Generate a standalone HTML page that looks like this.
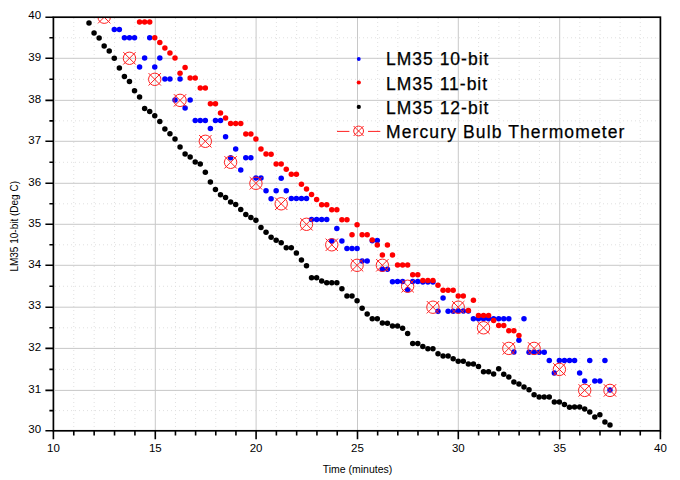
<!DOCTYPE html><html><head><meta charset="utf-8"><title>LM35 chart</title><style>
html,body{margin:0;padding:0;background:#fff;width:680px;height:480px;overflow:hidden}
svg{display:block}text{font-family:"Liberation Sans",sans-serif;fill:#000}
</style></head><body>
<svg width="680" height="480" viewBox="0 0 680 480">
<defs><clipPath id="pa"><rect x="53.4" y="17.2" width="607" height="413.6"/></clipPath>
<g id="mk"><circle r="6.2" fill="none" stroke="#ff2020" stroke-width="1"/><path d="M-6.2-6.2L6.2 6.2M6.2-6.2L-6.2 6.2" stroke="#ff2020" stroke-width="1" fill="none"/></g>
</defs>
<rect width="680" height="480" fill="#fff"/>
<path d="M73.78 18V430M94.16 18V430M114.54 18V430M134.92 18V430M175.46 18V430M195.62 18V430M215.78 18V430M235.94 18V430M276.38 18V430M296.66 18V430M316.94 18V430M337.22 18V430M377.66 18V430M397.82 18V430M417.98 18V430M438.14 18V430M478.58 18V430M498.86 18V430M519.14 18V430M539.42 18V430M579.84 18V430M599.98 18V430M620.12 18V430M640.26 18V430M55 410.6H659M55 369.4H659M55 327.8H659M55 286.25H659M55 244.8H659M55 203.8H659M55 162.3H659M55 120.83H659M55 79.32H659M55 37.75H659" stroke="#e0e0e0" stroke-width="1" stroke-dasharray="1 3" fill="none"/>
<path d="M155.3 18V430M256.1 18V430M357.5 18V430M458.3 18V430M559.7 18V430M55 390.4H659M55 348.4H659M55 307.2H659M55 265.3H659M55 224.3H659M55 183.3H659M55 141.3H659M55 100.35H659M55 58.3H659" stroke="#c8c8c8" stroke-width="1" fill="none"/>
<g>
<circle cx="358.8" cy="59" r="1.9" fill="#0000ff"/>
<circle cx="358.8" cy="82.5" r="2.1" fill="#ff0000"/>
<circle cx="358.8" cy="106.9" r="2.1" fill="#000"/>
<path d="M337 131.4H349.4M368 131.4H380.3" stroke="#ff2020" stroke-width="1"/>
<circle cx="358.6" cy="131" r="4.9" fill="none" stroke="#ff2020" stroke-width="1"/><path d="M353.6 126L363.6 136M363.6 126L353.6 136" stroke="#ff2020" stroke-width="1"/>
<text x="386" y="65.30" font-size="17.5" letter-spacing="1.0" stroke="#000" stroke-width="0.25">LM35 10-bit</text>
<text x="386" y="89.60" font-size="17.5" letter-spacing="1.0" stroke="#000" stroke-width="0.25">LM35 11-bit</text>
<text x="386" y="113.90" font-size="17.5" letter-spacing="1.0" stroke="#000" stroke-width="0.25">LM35 12-bit</text>
<text x="386" y="138.20" font-size="17.5" letter-spacing="1.12" stroke="#000" stroke-width="0.25">Mercury Bulb Thermometer</text>
</g>
<g clip-path="url(#pa)">
<g fill="#0000ff">
<circle cx="114.29" cy="29.5" r="2.75"/>
<circle cx="119.35" cy="29.5" r="2.75"/>
<circle cx="124.41" cy="37.8" r="2.75"/>
<circle cx="129.46" cy="37.8" r="2.75"/>
<circle cx="134.52" cy="37.8" r="2.75"/>
<circle cx="139.58" cy="67.0" r="2.75"/>
<circle cx="144.64" cy="58.1" r="2.75"/>
<circle cx="149.70" cy="37.8" r="2.75"/>
<circle cx="154.75" cy="67.0" r="2.75"/>
<circle cx="159.81" cy="58.1" r="2.75"/>
<circle cx="164.87" cy="78.9" r="2.75"/>
<circle cx="169.93" cy="78.9" r="2.75"/>
<circle cx="174.99" cy="100.0" r="2.75"/>
<circle cx="180.04" cy="78.9" r="2.75"/>
<circle cx="185.10" cy="108.1" r="2.75"/>
<circle cx="190.16" cy="100.0" r="2.75"/>
<circle cx="195.22" cy="120.6" r="2.75"/>
<circle cx="200.28" cy="120.6" r="2.75"/>
<circle cx="205.33" cy="120.6" r="2.75"/>
<circle cx="210.39" cy="128.6" r="2.75"/>
<circle cx="215.45" cy="120.6" r="2.75"/>
<circle cx="220.51" cy="120.6" r="2.75"/>
<circle cx="225.57" cy="136.8" r="2.75"/>
<circle cx="230.62" cy="157.8" r="2.75"/>
<circle cx="235.68" cy="149.1" r="2.75"/>
<circle cx="240.74" cy="170.0" r="2.75"/>
<circle cx="245.80" cy="157.8" r="2.75"/>
<circle cx="250.86" cy="157.8" r="2.75"/>
<circle cx="255.91" cy="178.0" r="2.75"/>
<circle cx="260.97" cy="178.0" r="2.75"/>
<circle cx="266.03" cy="190.8" r="2.75"/>
<circle cx="271.09" cy="198.7" r="2.75"/>
<circle cx="276.15" cy="190.8" r="2.75"/>
<circle cx="281.20" cy="178.3" r="2.75"/>
<circle cx="286.26" cy="190.8" r="2.75"/>
<circle cx="291.32" cy="198.6" r="2.75"/>
<circle cx="296.38" cy="198.6" r="2.75"/>
<circle cx="301.44" cy="198.6" r="2.75"/>
<circle cx="306.49" cy="198.6" r="2.75"/>
<circle cx="311.55" cy="219.5" r="2.75"/>
<circle cx="316.61" cy="219.5" r="2.75"/>
<circle cx="321.67" cy="219.6" r="2.75"/>
<circle cx="326.73" cy="219.6" r="2.75"/>
<circle cx="331.78" cy="240.9" r="2.75"/>
<circle cx="336.84" cy="228.4" r="2.75"/>
<circle cx="341.90" cy="240.9" r="2.75"/>
<circle cx="346.96" cy="248.4" r="2.75"/>
<circle cx="352.02" cy="248.4" r="2.75"/>
<circle cx="357.07" cy="248.4" r="2.75"/>
<circle cx="362.13" cy="261.0" r="2.75"/>
<circle cx="367.19" cy="261.0" r="2.75"/>
<circle cx="372.25" cy="240.8" r="2.75"/>
<circle cx="377.31" cy="240.4" r="2.75"/>
<circle cx="382.36" cy="269.2" r="2.75"/>
<circle cx="387.42" cy="269.2" r="2.75"/>
<circle cx="392.48" cy="281.7" r="2.75"/>
<circle cx="397.54" cy="281.6" r="2.75"/>
<circle cx="402.60" cy="281.6" r="2.75"/>
<circle cx="407.65" cy="289.7" r="2.75"/>
<circle cx="412.71" cy="281.6" r="2.75"/>
<circle cx="417.77" cy="281.6" r="2.75"/>
<circle cx="422.83" cy="282.0" r="2.75"/>
<circle cx="427.89" cy="282.0" r="2.75"/>
<circle cx="432.94" cy="282.0" r="2.75"/>
<circle cx="438.00" cy="311.2" r="2.75"/>
<circle cx="443.06" cy="298.1" r="2.75"/>
<circle cx="448.12" cy="311.2" r="2.75"/>
<circle cx="453.18" cy="311.2" r="2.75"/>
<circle cx="458.23" cy="311.0" r="2.75"/>
<circle cx="463.29" cy="311.0" r="2.75"/>
<circle cx="468.35" cy="311.0" r="2.75"/>
<circle cx="473.41" cy="318.8" r="2.75"/>
<circle cx="478.47" cy="318.8" r="2.75"/>
<circle cx="483.52" cy="318.8" r="2.75"/>
<circle cx="488.58" cy="318.8" r="2.75"/>
<circle cx="493.64" cy="318.8" r="2.75"/>
<circle cx="498.70" cy="318.8" r="2.75"/>
<circle cx="503.76" cy="318.8" r="2.75"/>
<circle cx="508.81" cy="318.8" r="2.75"/>
<circle cx="513.87" cy="352.0" r="2.75"/>
<circle cx="518.93" cy="340.2" r="2.75"/>
<circle cx="523.99" cy="318.8" r="2.75"/>
<circle cx="529.05" cy="352.2" r="2.75"/>
<circle cx="534.10" cy="352.2" r="2.75"/>
<circle cx="539.16" cy="352.2" r="2.75"/>
<circle cx="544.22" cy="352.2" r="2.75"/>
<circle cx="549.28" cy="360.6" r="2.75"/>
<circle cx="554.34" cy="373.1" r="2.75"/>
<circle cx="559.39" cy="360.6" r="2.75"/>
<circle cx="564.45" cy="360.6" r="2.75"/>
<circle cx="569.51" cy="360.6" r="2.75"/>
<circle cx="574.57" cy="360.6" r="2.75"/>
<circle cx="579.63" cy="373.1" r="2.75"/>
<circle cx="584.68" cy="381.0" r="2.75"/>
<circle cx="589.74" cy="360.6" r="2.75"/>
<circle cx="594.80" cy="381.0" r="2.75"/>
<circle cx="599.86" cy="381.0" r="2.75"/>
<circle cx="604.92" cy="360.6" r="2.75"/>
<circle cx="609.97" cy="390.0" r="2.75"/>
</g><g fill="#ff0000">
<circle cx="139.58" cy="22.0" r="2.75"/>
<circle cx="144.64" cy="22.0" r="2.75"/>
<circle cx="149.70" cy="22.0" r="2.75"/>
<circle cx="154.75" cy="37.8" r="2.75"/>
<circle cx="159.81" cy="42.5" r="2.75"/>
<circle cx="164.87" cy="48.0" r="2.75"/>
<circle cx="169.93" cy="53.0" r="2.75"/>
<circle cx="174.99" cy="58.0" r="2.75"/>
<circle cx="180.04" cy="73.3" r="2.75"/>
<circle cx="185.10" cy="67.6" r="2.75"/>
<circle cx="190.16" cy="78.1" r="2.75"/>
<circle cx="195.22" cy="78.1" r="2.75"/>
<circle cx="200.28" cy="87.9" r="2.75"/>
<circle cx="205.33" cy="87.9" r="2.75"/>
<circle cx="210.39" cy="103.7" r="2.75"/>
<circle cx="215.45" cy="103.7" r="2.75"/>
<circle cx="220.51" cy="113.0" r="2.75"/>
<circle cx="225.57" cy="118.0" r="2.75"/>
<circle cx="230.62" cy="123.6" r="2.75"/>
<circle cx="235.68" cy="123.6" r="2.75"/>
<circle cx="240.74" cy="123.6" r="2.75"/>
<circle cx="245.80" cy="133.9" r="2.75"/>
<circle cx="250.86" cy="133.9" r="2.75"/>
<circle cx="255.91" cy="139.0" r="2.75"/>
<circle cx="260.97" cy="149.0" r="2.75"/>
<circle cx="266.03" cy="154.0" r="2.75"/>
<circle cx="271.09" cy="154.2" r="2.75"/>
<circle cx="276.15" cy="164.0" r="2.75"/>
<circle cx="281.20" cy="164.0" r="2.75"/>
<circle cx="286.26" cy="169.3" r="2.75"/>
<circle cx="291.32" cy="174.2" r="2.75"/>
<circle cx="296.38" cy="174.2" r="2.75"/>
<circle cx="301.44" cy="184.2" r="2.75"/>
<circle cx="306.49" cy="188.9" r="2.75"/>
<circle cx="311.55" cy="194.4" r="2.75"/>
<circle cx="316.61" cy="199.5" r="2.75"/>
<circle cx="321.67" cy="204.7" r="2.75"/>
<circle cx="326.73" cy="204.7" r="2.75"/>
<circle cx="331.78" cy="209.7" r="2.75"/>
<circle cx="336.84" cy="209.7" r="2.75"/>
<circle cx="341.90" cy="219.7" r="2.75"/>
<circle cx="346.96" cy="219.7" r="2.75"/>
<circle cx="352.02" cy="234.8" r="2.75"/>
<circle cx="357.07" cy="224.7" r="2.75"/>
<circle cx="362.13" cy="234.8" r="2.75"/>
<circle cx="367.19" cy="234.8" r="2.75"/>
<circle cx="372.25" cy="240.0" r="2.75"/>
<circle cx="377.31" cy="245.0" r="2.75"/>
<circle cx="382.36" cy="255.1" r="2.75"/>
<circle cx="387.42" cy="245.0" r="2.75"/>
<circle cx="392.48" cy="255.1" r="2.75"/>
<circle cx="397.54" cy="265.0" r="2.75"/>
<circle cx="402.60" cy="265.1" r="2.75"/>
<circle cx="407.65" cy="265.1" r="2.75"/>
<circle cx="412.71" cy="274.8" r="2.75"/>
<circle cx="417.77" cy="274.8" r="2.75"/>
<circle cx="422.83" cy="280.4" r="2.75"/>
<circle cx="427.89" cy="280.4" r="2.75"/>
<circle cx="432.94" cy="280.4" r="2.75"/>
<circle cx="438.00" cy="285.3" r="2.75"/>
<circle cx="443.06" cy="290.3" r="2.75"/>
<circle cx="448.12" cy="290.3" r="2.75"/>
<circle cx="453.18" cy="290.3" r="2.75"/>
<circle cx="458.23" cy="295.9" r="2.75"/>
<circle cx="463.29" cy="295.9" r="2.75"/>
<circle cx="468.35" cy="310.6" r="2.75"/>
<circle cx="473.41" cy="300.3" r="2.75"/>
<circle cx="478.47" cy="315.6" r="2.75"/>
<circle cx="483.52" cy="315.6" r="2.75"/>
<circle cx="488.58" cy="315.6" r="2.75"/>
<circle cx="493.64" cy="320.6" r="2.75"/>
<circle cx="498.70" cy="325.6" r="2.75"/>
<circle cx="503.76" cy="325.6" r="2.75"/>
<circle cx="508.81" cy="330.7" r="2.75"/>
<circle cx="513.87" cy="330.7" r="2.75"/>
<circle cx="518.93" cy="335.6" r="2.75"/>
</g><g fill="#000">
<circle cx="89.00" cy="22.9" r="2.75"/>
<circle cx="94.06" cy="32.9" r="2.75"/>
<circle cx="99.12" cy="38.1" r="2.75"/>
<circle cx="104.17" cy="46.0" r="2.75"/>
<circle cx="109.23" cy="51.0" r="2.75"/>
<circle cx="114.29" cy="58.2" r="2.75"/>
<circle cx="119.35" cy="68.0" r="2.75"/>
<circle cx="124.41" cy="76.5" r="2.75"/>
<circle cx="129.46" cy="81.5" r="2.75"/>
<circle cx="134.52" cy="90.8" r="2.75"/>
<circle cx="139.58" cy="96.9" r="2.75"/>
<circle cx="144.64" cy="108.6" r="2.75"/>
<circle cx="149.70" cy="111.4" r="2.75"/>
<circle cx="154.75" cy="115.8" r="2.75"/>
<circle cx="159.81" cy="121.6" r="2.75"/>
<circle cx="164.87" cy="128.9" r="2.75"/>
<circle cx="169.93" cy="133.8" r="2.75"/>
<circle cx="174.99" cy="139.0" r="2.75"/>
<circle cx="180.04" cy="146.9" r="2.75"/>
<circle cx="185.10" cy="153.9" r="2.75"/>
<circle cx="190.16" cy="157.0" r="2.75"/>
<circle cx="195.22" cy="162.0" r="2.75"/>
<circle cx="200.28" cy="164.0" r="2.75"/>
<circle cx="205.33" cy="172.2" r="2.75"/>
<circle cx="210.39" cy="182.0" r="2.75"/>
<circle cx="215.45" cy="189.4" r="2.75"/>
<circle cx="220.51" cy="194.8" r="2.75"/>
<circle cx="225.57" cy="197.4" r="2.75"/>
<circle cx="230.62" cy="202.1" r="2.75"/>
<circle cx="235.68" cy="204.5" r="2.75"/>
<circle cx="240.74" cy="209.5" r="2.75"/>
<circle cx="245.80" cy="214.5" r="2.75"/>
<circle cx="250.86" cy="217.5" r="2.75"/>
<circle cx="255.91" cy="220.3" r="2.75"/>
<circle cx="260.97" cy="227.6" r="2.75"/>
<circle cx="266.03" cy="232.3" r="2.75"/>
<circle cx="271.09" cy="237.2" r="2.75"/>
<circle cx="276.15" cy="240.3" r="2.75"/>
<circle cx="281.20" cy="242.7" r="2.75"/>
<circle cx="286.26" cy="247.8" r="2.75"/>
<circle cx="291.32" cy="247.8" r="2.75"/>
<circle cx="296.38" cy="253.1" r="2.75"/>
<circle cx="301.44" cy="260.0" r="2.75"/>
<circle cx="306.49" cy="265.8" r="2.75"/>
<circle cx="311.55" cy="277.8" r="2.75"/>
<circle cx="316.61" cy="277.8" r="2.75"/>
<circle cx="321.67" cy="280.9" r="2.75"/>
<circle cx="326.73" cy="282.8" r="2.75"/>
<circle cx="331.78" cy="282.8" r="2.75"/>
<circle cx="336.84" cy="282.8" r="2.75"/>
<circle cx="341.90" cy="288.8" r="2.75"/>
<circle cx="346.96" cy="296.1" r="2.75"/>
<circle cx="352.02" cy="296.1" r="2.75"/>
<circle cx="357.07" cy="300.8" r="2.75"/>
<circle cx="362.13" cy="308.3" r="2.75"/>
<circle cx="367.19" cy="314.1" r="2.75"/>
<circle cx="372.25" cy="318.8" r="2.75"/>
<circle cx="377.31" cy="318.8" r="2.75"/>
<circle cx="382.36" cy="323.0" r="2.75"/>
<circle cx="387.42" cy="323.3" r="2.75"/>
<circle cx="392.48" cy="326.0" r="2.75"/>
<circle cx="397.54" cy="326.1" r="2.75"/>
<circle cx="402.60" cy="328.3" r="2.75"/>
<circle cx="407.65" cy="333.4" r="2.75"/>
<circle cx="412.71" cy="343.6" r="2.75"/>
<circle cx="417.77" cy="343.6" r="2.75"/>
<circle cx="422.83" cy="346.4" r="2.75"/>
<circle cx="427.89" cy="348.8" r="2.75"/>
<circle cx="432.94" cy="348.8" r="2.75"/>
<circle cx="438.00" cy="353.8" r="2.75"/>
<circle cx="443.06" cy="356.1" r="2.75"/>
<circle cx="448.12" cy="356.1" r="2.75"/>
<circle cx="453.18" cy="358.8" r="2.75"/>
<circle cx="458.23" cy="361.3" r="2.75"/>
<circle cx="463.29" cy="361.3" r="2.75"/>
<circle cx="468.35" cy="363.9" r="2.75"/>
<circle cx="473.41" cy="364.0" r="2.75"/>
<circle cx="478.47" cy="366.5" r="2.75"/>
<circle cx="483.52" cy="371.7" r="2.75"/>
<circle cx="488.58" cy="371.7" r="2.75"/>
<circle cx="493.64" cy="374.1" r="2.75"/>
<circle cx="498.70" cy="368.8" r="2.75"/>
<circle cx="503.76" cy="374.2" r="2.75"/>
<circle cx="508.81" cy="376.9" r="2.75"/>
<circle cx="513.87" cy="381.9" r="2.75"/>
<circle cx="518.93" cy="383.9" r="2.75"/>
<circle cx="523.99" cy="387.0" r="2.75"/>
<circle cx="529.05" cy="389.7" r="2.75"/>
<circle cx="534.10" cy="394.8" r="2.75"/>
<circle cx="539.16" cy="397.1" r="2.75"/>
<circle cx="544.22" cy="397.1" r="2.75"/>
<circle cx="549.28" cy="397.0" r="2.75"/>
<circle cx="554.34" cy="402.0" r="2.75"/>
<circle cx="559.39" cy="402.0" r="2.75"/>
<circle cx="564.45" cy="404.6" r="2.75"/>
<circle cx="569.51" cy="407.2" r="2.75"/>
<circle cx="574.57" cy="407.1" r="2.75"/>
<circle cx="579.63" cy="407.1" r="2.75"/>
<circle cx="584.68" cy="409.0" r="2.75"/>
<circle cx="589.74" cy="412.0" r="2.75"/>
<circle cx="594.80" cy="417.1" r="2.75"/>
<circle cx="599.86" cy="414.7" r="2.75"/>
<circle cx="604.92" cy="422.0" r="2.75"/>
<circle cx="609.97" cy="425.1" r="2.75"/>
</g>
<use href="#mk" x="104.17" y="17.20"/>
<use href="#mk" x="129.46" y="58.30"/>
<use href="#mk" x="154.75" y="79.32"/>
<use href="#mk" x="180.04" y="100.35"/>
<use href="#mk" x="205.33" y="141.30"/>
<use href="#mk" x="230.62" y="162.30"/>
<use href="#mk" x="255.91" y="183.30"/>
<use href="#mk" x="281.20" y="203.80"/>
<use href="#mk" x="306.49" y="224.30"/>
<use href="#mk" x="331.78" y="244.80"/>
<use href="#mk" x="357.07" y="265.30"/>
<use href="#mk" x="382.36" y="265.30"/>
<use href="#mk" x="407.65" y="286.25"/>
<use href="#mk" x="432.94" y="307.20"/>
<use href="#mk" x="458.23" y="307.20"/>
<use href="#mk" x="483.52" y="327.80"/>
<use href="#mk" x="508.81" y="348.40"/>
<use href="#mk" x="534.10" y="348.40"/>
<use href="#mk" x="559.39" y="369.40"/>
<use href="#mk" x="584.68" y="390.40"/>
<use href="#mk" x="609.97" y="390.40"/>
</g>
<g stroke="#000" fill="none">
<rect x="53.4" y="17.2" width="607" height="413.6" stroke-width="1.7"/>
<path d="M53.40 430.8V439.2M73.78 430.8V435.5M94.16 430.8V435.5M114.54 430.8V435.5M134.92 430.8V435.5M155.30 430.8V439.2M175.46 430.8V435.5M195.62 430.8V435.5M215.78 430.8V435.5M235.94 430.8V435.5M256.10 430.8V439.2M276.38 430.8V435.5M296.66 430.8V435.5M316.94 430.8V435.5M337.22 430.8V435.5M357.50 430.8V439.2M377.66 430.8V435.5M397.82 430.8V435.5M417.98 430.8V435.5M438.14 430.8V435.5M458.30 430.8V439.2M478.58 430.8V435.5M498.86 430.8V435.5M519.14 430.8V435.5M539.42 430.8V435.5M559.70 430.8V439.2M579.84 430.8V435.5M599.98 430.8V435.5M620.12 430.8V435.5M640.26 430.8V435.5M660.40 430.8V439.2M53.4 430.80H45.4M53.4 410.60H49.4M53.4 390.40H45.4M53.4 369.40H49.4M53.4 348.40H45.4M53.4 327.80H49.4M53.4 307.20H45.4M53.4 286.25H49.4M53.4 265.30H45.4M53.4 244.80H49.4M53.4 224.30H45.4M53.4 203.80H49.4M53.4 183.30H45.4M53.4 162.30H49.4M53.4 141.30H45.4M53.4 120.83H49.4M53.4 100.35H45.4M53.4 79.32H49.4M53.4 58.30H45.4M53.4 37.75H49.4M53.4 17.20H45.4" stroke-width="1.6"/>
</g>
<text x="53.40" y="452.3" font-size="11.5" text-anchor="middle">10</text>
<text x="155.30" y="452.3" font-size="11.5" text-anchor="middle">15</text>
<text x="256.10" y="452.3" font-size="11.5" text-anchor="middle">20</text>
<text x="357.50" y="452.3" font-size="11.5" text-anchor="middle">25</text>
<text x="458.30" y="452.3" font-size="11.5" text-anchor="middle">30</text>
<text x="559.70" y="452.3" font-size="11.5" text-anchor="middle">35</text>
<text x="660.40" y="452.3" font-size="11.5" text-anchor="middle">40</text>
<text x="41.1" y="433.00" font-size="11.5" text-anchor="end">30</text>
<text x="41.1" y="392.60" font-size="11.5" text-anchor="end">31</text>
<text x="41.1" y="350.60" font-size="11.5" text-anchor="end">32</text>
<text x="41.1" y="309.40" font-size="11.5" text-anchor="end">33</text>
<text x="41.1" y="267.50" font-size="11.5" text-anchor="end">34</text>
<text x="41.1" y="226.50" font-size="11.5" text-anchor="end">35</text>
<text x="41.1" y="185.50" font-size="11.5" text-anchor="end">36</text>
<text x="41.1" y="143.50" font-size="11.5" text-anchor="end">37</text>
<text x="41.1" y="102.55" font-size="11.5" text-anchor="end">38</text>
<text x="41.1" y="60.50" font-size="11.5" text-anchor="end">39</text>
<text x="41.1" y="19.40" font-size="11.5" text-anchor="end">40</text>
<text x="357.5" y="473.3" font-size="10.5" text-anchor="middle">Time (minutes)</text>
<text transform="translate(18.2 226.3) rotate(-90)" font-size="10" text-anchor="middle">LM35 10-bit (Deg C)</text>
</svg></body></html>
